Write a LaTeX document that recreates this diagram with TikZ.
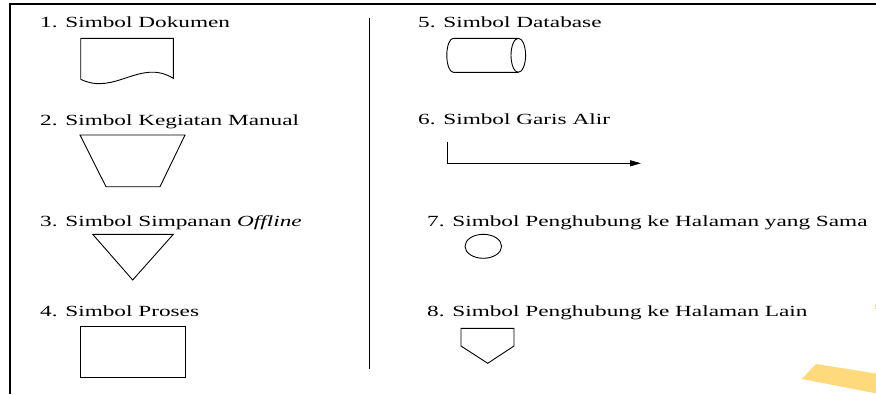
\documentclass[tikz,border=0pt]{standalone}
\usepackage{fontspec}
\setmainfont{Liberation Serif}[FakeStretch=1.5]
\usetikzlibrary{arrows.meta}

\begin{document}
\begin{tikzpicture}[x=1pt,y=-1pt,
  frame/.style={line width=1.3pt},
  symb/.style={draw, line width=0.9pt, line join=miter},
  lbl/.style={anchor=base west, inner sep=0pt, font=\fontsize{15.5}{18}\selectfont}]
\useasboundingbox (0,0) rectangle (876,394);
\definecolor{marker}{RGB}{254,218,125}

% page frame and column divider
\draw[frame] (10,394) -- (10,4) -- (876,4);
\draw[line width=1.1pt] (369.5,18) -- (369.5,369);

% highlighter marks at the lower right
\fill[marker] (801.7,379) -- (816,364) -- (876,373.5) -- (876,393.3) -- cycle;
\fill[marker] (875,304) -- (876,304) -- (876,309) -- (875,309) -- cycle;

% labels, left column
\node[lbl] (t1) at (40,27)    {1. Simbol Dokumen};
\node[lbl] (t2) at (40,125)   {2. Simbol Kegiatan Manual};
\node[lbl] (t3) at (40,226)   {3. Simbol Simpanan \textit{Offline}};
\node[lbl] (t4) at (40,316.5) {4. Simbol Proses};

% labels, right column
\node[lbl] (t5) at (418,27)    {5. Simbol Database};
\node[lbl] (t6) at (418,124.5) {6. Simbol Garis Alir};
\node[lbl] (t7) at (427,226)   {7. Simbol Penghubung ke Halaman yang Sama};
\node[lbl] (t8) at (427,316.5) {8. Simbol Penghubung ke Halaman Lain};

% 1. document
\draw[symb] (80.7,79.3) -- (80.7,38.3) -- (173.3,38.3) -- (173.3,78.3)
  .. controls (140,58) and (115,96) .. (80.7,79.3);

% 2. manual operation
\draw[symb] (80,135) -- (185,135) -- (160,186.7) -- (106,186.7) -- cycle;

% 3. offline storage
\draw[symb] (92.7,234.3) -- (173.3,234.3) -- (132.7,280) -- cycle;

% 4. process
\draw[symb] (80,326) rectangle (185.3,377.3);

% 5. database (horizontal cylinder)
\draw[symb] (518.3,38.3) -- (453.3,38.3)
  .. controls (449.7,38.3) and (446.8,45.9) .. (446.8,55.3)
  .. controls (446.8,64.7) and (449.7,72.3) .. (453.3,72.3) -- (518.3,72.3);
\draw[symb] (518.3,55.3) ellipse[x radius=7.3, y radius=17];

% 6. flow line
\coordinate (f0) at (447.3,141.7);
\coordinate (f1) at (447.3,163.3);
\coordinate (f2) at (641,163.3);
\draw[line width=0.9pt, -{Triangle[length=11pt,width=6pt]}] (f0) -- (f1) -- (f2);

% 7. on-page connector
\draw[symb] (483.3,246.3) ellipse[x radius=18.3, y radius=12];

% 8. off-page connector
\draw[symb] (461,328.3) -- (514,328.3) -- (514,346) -- (487.7,363.3) -- (461,346) -- cycle;
\end{tikzpicture}
\end{document}
